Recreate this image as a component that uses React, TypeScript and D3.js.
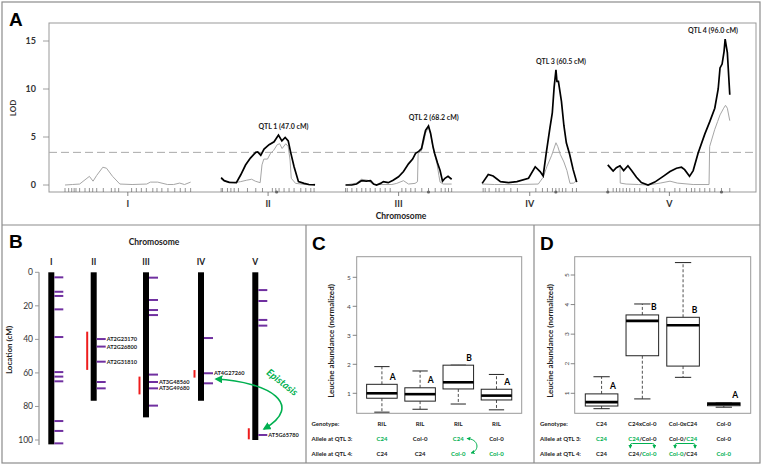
import React from "react";
import * as d3 from "d3";

// ---------- Panel A data ----------
const chromNames = ["I", "II", "III", "IV", "V"];
const chromLengthsA = [103, 77, 87, 78, 101];
const chromGapA = 25;
const lodTicks = [0, 5, 10, 15];
const lodThreshold = 3.4;

const lodGrayI = [[0,0],[6,0.05],[12,0.1],[18,0.7],[20,0.9],[23,0.4],[26,1.0],[31,1.85],[34,1.75],[39,0.9],[45,0.1],[55,0.05],[67,0.1],[70,0.3],[76,0.3],[84,0.05],[89,0.05],[94,0.2],[98,0.05],[103,0.3]];
const lodBlackII = [[0,0.76],[2.5,0.45],[6.6,0.28],[12.5,0.24],[16,1.04],[20,2.08],[24,2.8],[28.4,3.4],[30,3.45],[32.5,3.1],[35.2,3.75],[39.3,4.2],[43.4,4.5],[47,5.2],[49.8,4.6],[52.5,4.95],[55,4.6],[57,3.4],[59.8,1.9],[63.4,0.35],[68,0.17],[72,0.05],[77,0.02]];
const lodGrayII = [[0,0.6],[4,0.35],[11,0.25],[16,0.35],[21,0.5],[25,0.6],[28,0.4],[32,0.24],[33.5,2.1],[35,2.7],[38,2.7],[40.5,3.3],[43,3.6],[46,4.2],[48,4.3],[50,3.8],[53,4.3],[55,4.0],[56.5,2.6],[57.5,0.7],[61,0.17],[73,0],[77,0.1]];
const lodBlackIII = [[0,0],[5,0],[9,0.1],[13,0.45],[17,0.4],[20.5,0.45],[23,0.1],[25.4,0],[28.7,0.17],[31,0.35],[35,0.24],[39,0.5],[43.4,0.86],[47.5,1.4],[51.6,2.2],[55,2.7],[57.4,3.3],[60,3.5],[62.3,3.8],[64.3,5.0],[65.6,5.7],[68,6.15],[69.7,5.4],[71.7,4.0],[73,3.3],[75.4,2.3],[77.5,1.5],[79.5,0.4],[81.5,0.7],[84,0.9],[87,0.6]];
const lodGrayIII = [[0,0],[9,0.2],[13,0.6],[18,0.5],[23,0.05],[38,0.05],[42,0.17],[47.5,0.45],[51.6,0.1],[57,0.17],[59,0.35],[59.5,3.3],[62,3.5],[64.3,4.6],[65.6,5.4],[68,6.0],[69.7,5.3],[71.7,3.9],[73,3.2],[75,2.2],[76.5,1.0],[77.5,0.3],[80,0.1],[87,0.1]];
const lodBlackIV = [[0,0.17],[5,1.1],[9,0.94],[15,0.35],[21.6,0.24],[28.5,0.35],[38,0.7],[43.5,1.9],[47.5,1.4],[50,0.94],[52.5,3.3],[55.5,5.9],[57.5,7.5],[59,10.2],[60.5,12.0],[61.3,10.8],[62.5,10.8],[65,8.7],[67,6.2],[69,4.4],[71.7,3.2],[74.6,1.6],[77.5,0.3]];
const lodGrayIV = [[0,0.1],[10,0.05],[30,0.05],[46,0.1],[50,0.8],[53,1.9],[57,3.1],[60.5,4.4],[62,4.0],[64,3.2],[67,2.4],[69.5,1.5],[72,0.17],[75,0.2],[77.5,0.5]];
const lodBlackV = [[0,2.1],[4.4,1.45],[7,1.8],[10,2.0],[13,1.5],[16.5,2.0],[19.5,1.5],[23.5,0.8],[27.5,0.25],[33,0],[38.5,0.3],[45.4,0.9],[51,1.4],[56.3,1.75],[60.4,1.85],[63,1.6],[67,0.9],[70,1.5],[74,3.3],[79.5,5.3],[83.6,6.6],[87.7,8.0],[90.5,10.0],[92,12.2],[93.7,12.6],[95.3,13.9],[96.2,15.2],[98,13.8],[100,9.4]];
const lodGrayV = [[0,2.0],[4.4,1.4],[7,1.8],[10,2.0],[10.2,0.2],[15,0.1],[25,0.05],[33,0],[43,0.2],[51,0.4],[57,0.2],[70,0.05],[83,0.05],[83.5,4.0],[87.7,5.8],[90,6.6],[92,7.3],[95,8.0],[96.5,8.3],[98,8.0],[100,6.7]];

const lodBlack = [null, lodBlackII, lodBlackIII, lodBlackIV, lodBlackV];
const lodGray = [lodGrayI, lodGrayII, lodGrayIII, lodGrayIV, lodGrayV];

const markersA = [
  [0,3,5.5,7.5,9,12,16.4,20,22.7,26,31.4,38,41,44,54.6,58.5,62.6,66.7,72,75.4,79.4,84.4,90,94.5,98.6,103],
  [0,1.1,5.2,8,10.7,14.2,21.6,28.4,33.9,42,44.8,47.5,51.6,55.7,59.8,65.3,69.4,73.5,76.2],
  [0,1.4,5.2,9.2,13.3,16.6,20.2,24.3,28.4,32.5,36.6,46.2,49.4,53.5,57.1,62.5,68,73.5,78.4,81.7,84.4,87],
  [0.8,2.5,5.7,11.2,13.9,18,23.5,28.9,44,49.4,53.5,57.6,60.4,63.1,65.8,68.6,74,77.3],
  [0,4.4,7.1,9.8,12.5,15.3,18,22,26.2,31.7,37.1,42.6,46.7,55,59,64.5,68.6,71.3,75.4,79.5,83.6,87.7,93.2,100],
];
const dotChrom = [1, 2, 3, 4, 4];
const dotPos = [45.5, 68, 60.4, 0, 93.2];

const qtlNames = ["QTL 1 (47.0 cM)", "QTL 2 (68.2 cM)", "QTL 3 (60.5 cM)", "QTL 4 (96.0 cM)"];
const qtlChrom = [1, 2, 3, 4];
const qtlPos = [47.0, 68.2, 60.5, 96.0];

// ---------- Panel B data ----------
const chromLengthsB = [102.6, 76.6, 86.5, 76.6, 100];
const locTicks = [0, 20, 40, 60, 80, 100];
const markersB = [
  [3, 11.6, 14.1, 22.1, 38.6, 59.5, 62.2, 65, 88.7, 94.6, 102],
  [39.8, 44.3, 53.3, 65.4, 69.2],
  [3.2, 16.5, 22.5, 25.5, 61, 65.4, 69.2, 79.5],
  [39.2, 60.2, 66.2],
  [10.6, 17.1, 28.4, 31.8, 97],
];
const geneNames = ["AT2G23170", "AT2G26800", "AT2G31810", "AT3G48560", "AT3G49680", "AT4G27260", "AT5G65780"];
const geneChrom = [1, 1, 1, 2, 2, 3, 4];
const genePos = [39.8, 44.3, 53.3, 65.4, 69.2, 60.2, 97];
const qtlIntervalChrom = [1, 2, 3, 4];
const qtlIntervalFrom = [35.4, 62.2, 58.3, 93];
const qtlIntervalTo = [58.2, 72.8, 62.8, 99.6];

// ---------- Panel C / D data ----------
const abundanceTicks = [1, 2, 3, 4, 5];
// [whiskerLow, Q1, median, Q3, whiskerHigh]
const cBoxes = [
  [0.35, 0.83, 1.0, 1.31, 1.92],
  [0.45, 0.73, 0.97, 1.19, 1.77],
  [0.63, 1.15, 1.38, 1.97, 1.97],
  [0.43, 0.77, 0.92, 1.14, 1.65],
];
const cLetters = ["A", "A", "B", "A"];
const cGenotype = ["RIL", "RIL", "RIL", "RIL"];
const cQtl3 = [[["C24", "g"]], [["Col-0", "k"]], [["C24", "g"]], [["Col-0", "k"]]];
const cQtl4 = [[["C24", "k"]], [["C24", "k"]], [["Col-0", "g"]], [["Col-0", "g"]]];

const dBoxes = [
  [0.48, 0.57, 0.7, 0.98, 1.56],
  [0.81, 2.27, 3.45, 3.65, 4.02],
  [1.54, 1.92, 3.3, 3.57, 5.42],
  [0.53, 0.58, 0.64, 0.68, 0.68],
];
const dLetters = ["A", "B", "B", "A"];
const dGenotype = ["C24", "C24xCol-0", "Col-0xC24", "Col-0"];
const dQtl3 = [[["C24", "g"]], [["C24", "g"], ["/Col-0", "k"]], [["Col-0/", "k"], ["C24", "g"]], [["Col-0", "k"]]];
const dQtl4 = [[["C24", "k"]], [["C24/", "k"], ["Col-0", "g"]], [["Col-0", "g"], ["/C24", "k"]], [["Col-0", "g"]]];
const rowLabels = ["Genotype:", "Allele at QTL 3:", "Allele at QTL 4:"];

const FONT = "Lato, 'Open Sans', sans-serif";
const GREEN = "#00b050";
const PURPLE = "#7030a0";
const FRAME = "#8c8c8c";

function Boxplot({ boxes, letters, xs, ys, unit, rotateTicks, frame }) {
  const bw = unit * 0.8;
  return (
    <g>
      <rect x={frame[0]} y={frame[1]} width={frame[2] - frame[0]} height={frame[3] - frame[1]} fill="white" stroke="#999" strokeWidth={1} />
      {abundanceTicks.map((t) => (
        <g key={t}>
          <line x1={frame[0] - 4} x2={frame[0]} y1={ys(t)} y2={ys(t)} stroke="#666" strokeWidth={0.8} />
          {rotateTicks ? (
            <text transform={`translate(${frame[0] - 6},${ys(t)}) rotate(-90)`} textAnchor="middle" fontSize={6.5} fill="#444" fontFamily={FONT}>{t}</text>
          ) : (
            <text x={frame[0] - 6} y={ys(t)} dy="0.35em" textAnchor="end" fontSize={6.5} fill="#444" fontFamily={FONT}>{t}</text>
          )}
        </g>
      ))}
      {boxes.map((b, i) => {
        const cx = xs(i + 1);
        const [lo, q1, md, q3, hi] = b;
        return (
          <g key={i}>
            <line x1={cx} x2={cx} y1={ys(q3)} y2={ys(hi)} stroke="#222" strokeWidth={0.8} strokeDasharray="3,2" />
            <line x1={cx} x2={cx} y1={ys(q1)} y2={ys(lo)} stroke="#222" strokeWidth={0.8} strokeDasharray="3,2" />
            <line x1={cx - bw / 4} x2={cx + bw / 4} y1={ys(hi)} y2={ys(hi)} stroke="#222" strokeWidth={1} />
            <line x1={cx - bw / 4} x2={cx + bw / 4} y1={ys(lo)} y2={ys(lo)} stroke="#222" strokeWidth={1} />
            <rect x={cx - bw / 2} y={ys(q3)} width={bw} height={ys(q1) - ys(q3)} fill="white" stroke="#222" strokeWidth={1} />
            <line x1={cx - bw / 2} x2={cx + bw / 2} y1={ys(md)} y2={ys(md)} stroke="#000" strokeWidth={2.6} />
            <text x={cx + unit * 0.28} y={ys(q3) - 4.5} textAnchor="middle" fontSize={8.5} fontWeight="bold" fontFamily={FONT}>{letters[i]}</text>
          </g>
        );
      })}
    </g>
  );
}

function RichText({ x, y, parts }) {
  return (
    <text x={x} y={y} textAnchor="middle" fontSize={6} fontWeight="bold" fontFamily={FONT}>
      {parts.map((p, j) => (
        <tspan key={j} fill={p[1] === "g" ? GREEN : "#222"}>{p[0]}</tspan>
      ))}
    </text>
  );
}

export default function App() {
  // ---- Panel A scales
  const starts = [];
  let acc = 0;
  chromLengthsA.forEach((L) => { starts.push(acc); acc += L + chromGapA; });
  const totalA = acc - chromGapA;
  const xA = d3.scaleLinear().domain([0, totalA]).range([65, 731]);
  const yA = d3.scaleLinear().domain([0, 15]).range([185, 41]);
  const lineA = (ci) => d3.line().x((d) => xA(starts[ci] + d[0])).y((d) => yA(d[1]));

  // ---- Panel B scales
  const yB = d3.scaleLinear().domain([0, 100]).range([272.3, 440]);
  const barLeft = [48.3, 90.7, 143, 198, 252.3];
  const barW = 6;

  // ---- Panel C / D scales
  const frameC = [356.7, 256.7, 521.7, 413.3];
  const frameD = [574.7, 256.7, 750.7, 413.3];
  const xC = d3.scaleLinear().domain([0.34, 4.66]).range([frameC[0], frameC[2]]);
  const yC = d3.scaleLinear().domain([1, 5]).range([393.3, 277.3]);
  const xD = d3.scaleLinear().domain([0.34, 4.66]).range([frameD[0], frameD[2]]);
  const yD = d3.scaleLinear().domain([1, 5]).range([393.3, 275]);
  const unitC = xC(2) - xC(1);
  const unitD = xD(2) - xD(1);
  const rowY = [426, 440.5, 456];

  return (
    <svg width={763} height={465} style={{ position: "absolute", left: 0, top: 0, background: "white" }} fontFamily={FONT}>
      <defs>
        <marker id="ah" viewBox="0 0 10 10" refX="8" refY="5" markerWidth="5" markerHeight="5" orient="auto-start-reverse">
          <path d="M0,0 L10,5 L0,10 z" fill={GREEN} />
        </marker>
        <marker id="ahs" viewBox="0 0 10 10" refX="8" refY="5" markerWidth="4" markerHeight="4" orient="auto-start-reverse">
          <path d="M0,0 L10,5 L0,10 z" fill={GREEN} />
        </marker>
      </defs>
      <rect x={0} y={0} width={763} height={465} fill="white" />
      {/* panel borders */}
      <rect x={2} y={2} width={758} height={461} fill="none" stroke={FRAME} strokeWidth={1.2} />
      <line x1={2} x2={760} y1={225} y2={225} stroke={FRAME} strokeWidth={1.2} />
      <line x1={306} x2={306} y1={225} y2={463} stroke={FRAME} strokeWidth={1.2} />
      <line x1={534} x2={534} y1={225} y2={463} stroke={FRAME} strokeWidth={1.2} />

      {/* ================= Panel A ================= */}
      <text x={9} y={26} fontSize={19} fontWeight="bold" fontFamily="'Liberation Sans', Arial, sans-serif">A</text>
      <rect x={49} y={23} width={707} height={169} fill="none" stroke="#999" strokeWidth={1} />
      {lodTicks.map((t) => (
        <g key={t}>
          <line x1={43} x2={49} y1={yA(t)} y2={yA(t)} stroke="#888" strokeWidth={0.8} />
          <text x={36} y={yA(t)} dy="0.35em" textAnchor="end" fontSize={9} fontWeight="bold" fill="#333">{t}</text>
        </g>
      ))}
      <text transform={`translate(16,108) rotate(-90)`} textAnchor="middle" fontSize={8} fontWeight="bold" fill="#333">LOD</text>
      <line x1={49} x2={756} y1={yA(lodThreshold)} y2={yA(lodThreshold)} stroke="#aaa" strokeWidth={1} strokeDasharray="8,4" />
      {chromNames.map((c, ci) => (
        <g key={c}>
          {markersA[ci].map((m, k) => (
            <line key={k} x1={xA(starts[ci] + m)} x2={xA(starts[ci] + m)} y1={188} y2={192} stroke="#666" strokeWidth={0.7} />
          ))}
          <line x1={xA(starts[ci] + chromLengthsA[ci] / 2)} x2={xA(starts[ci] + chromLengthsA[ci] / 2)} y1={192} y2={196} stroke="#666" strokeWidth={0.8} />
          <text x={xA(starts[ci] + chromLengthsA[ci] / 2)} y={207} textAnchor="middle" fontSize={9} fontWeight="bold" fill="#333">{c}</text>
          <path d={lineA(ci)(lodGray[ci])} fill="none" stroke="#a6a6a6" strokeWidth={1} />
          {lodBlack[ci] && <path d={lineA(ci)(lodBlack[ci])} fill="none" stroke="#000" strokeWidth={1.7} />}
        </g>
      ))}
      {dotPos.map((p, k) => (
        <circle key={k} cx={xA(starts[dotChrom[k]] + p)} cy={192} r={1.6} fill="#666" />
      ))}
      {qtlNames.map((q, k) => {
        const ci = qtlChrom[k];
        const peak = d3.max(lodBlack[ci], (d) => d[1]);
        const cx = Math.min(xA(starts[ci] + qtlPos[k]) + 5, 713);
        return (
          <text key={q} x={cx} y={yA(peak) - 6} textAnchor="middle" fontSize={7} fontWeight="bold" fill="#222">{q}</text>
        );
      })}
      <text x={401} y={219} textAnchor="middle" fontSize={8.5} fontWeight="bold" fill="#222">Chromosome</text>

      {/* ================= Panel B ================= */}
      <text x={9} y={248} fontSize={19} fontWeight="bold" fontFamily="'Liberation Sans', Arial, sans-serif">B</text>
      <text x={154} y={245} textAnchor="middle" fontSize={8.5} fontWeight="bold" fill="#222">Chromosome</text>
      <line x1={39} x2={39} y1={yB(0)} y2={yB(103)} stroke="#aaa" strokeWidth={1.5} />
      {locTicks.map((t) => (
        <g key={t}>
          <line x1={35} x2={39} y1={yB(t)} y2={yB(t)} stroke="#999" strokeWidth={1} />
          <text x={33} y={yB(t)} dy="0.35em" textAnchor="end" fontSize={8.5} fill="#333">{t}</text>
        </g>
      ))}
      <text transform={`translate(12,350) rotate(-90)`} textAnchor="middle" fontSize={8} fontWeight="bold" fill="#222">Location (cM)</text>
      {chromNames.map((c, ci) => (
        <g key={c}>
          <text x={barLeft[ci] + barW / 2} y={265} textAnchor="middle" fontSize={8.5} fontWeight="bold" fill="#222">{c}</text>
          <rect x={barLeft[ci]} y={yB(0)} width={barW} height={yB(chromLengthsB[ci]) - yB(0)} fill="#000" />
          {markersB[ci].map((m, k) => (
            <line key={k} x1={barLeft[ci] + barW} x2={barLeft[ci] + barW + 9} y1={yB(m)} y2={yB(m)} stroke={PURPLE} strokeWidth={2} />
          ))}
        </g>
      ))}
      {qtlIntervalChrom.map((ci, k) => (
        <line key={k} x1={barLeft[ci] - 3.5} x2={barLeft[ci] - 3.5} y1={yB(qtlIntervalFrom[k])} y2={yB(qtlIntervalTo[k])} stroke="#ee1c1c" strokeWidth={2} />
      ))}
      {geneNames.map((g, k) => (
        <text key={g} x={barLeft[geneChrom[k]] + barW + 10} y={yB(genePos[k])} dy="0.35em" fontSize={5.6} fontWeight="bold" fill="#222">{g}</text>
      ))}
      <path d="M216,379 C270,382 305,405 264,429" fill="none" stroke={GREEN} strokeWidth={1.6} markerStart="url(#ah)" markerEnd="url(#ah)" />
      <text transform="translate(280,385) rotate(38)" textAnchor="middle" fontSize={10} fontWeight="bold" fontStyle="italic" fill={GREEN}>Epistasis</text>

      {/* ================= Panel C ================= */}
      <text x={312} y={250} fontSize={19} fontWeight="bold" fontFamily="'Liberation Sans', Arial, sans-serif">C</text>
      <text transform={`translate(334,341) rotate(-90)`} textAnchor="middle" fontSize={8} fontWeight="bold" fill="#222">Leucine abundance (normalized)</text>
      <Boxplot boxes={cBoxes} letters={cLetters} xs={xC} ys={yC} unit={unitC} rotateTicks={false} frame={frameC} />
      {rowLabels.map((r, k) => (
        <text key={r} x={311.5} y={rowY[k]} fontSize={6} fontWeight="bold" fill="#222">{r}</text>
      ))}
      {cGenotype.map((g, i) => (
        <RichText key={"cg" + i} x={xC(i + 1)} y={rowY[0]} parts={[[g, "k"]]} />
      ))}
      {cQtl3.map((p, i) => <RichText key={"c3" + i} x={xC(i + 1)} y={rowY[1]} parts={p} />)}
      {cQtl4.map((p, i) => <RichText key={"c4" + i} x={xC(i + 1)} y={rowY[2]} parts={p} />)}
      <path d={`M${xC(3) + 9},438.5 C${xC(3) + 20},439 ${xC(3) + 22},450 ${xC(3) + 13},453`} fill="none" stroke={GREEN} strokeWidth={1} markerStart="url(#ahs)" markerEnd="url(#ahs)" />

      {/* ================= Panel D ================= */}
      <text x={540} y={250} fontSize={19} fontWeight="bold" fontFamily="'Liberation Sans', Arial, sans-serif">D</text>
      <text transform={`translate(553,341) rotate(-90)`} textAnchor="middle" fontSize={8} fontWeight="bold" fill="#222">Leucine abundance (normalized)</text>
      <Boxplot boxes={dBoxes} letters={dLetters} xs={xD} ys={yD} unit={unitD} rotateTicks={true} frame={frameD} />
      {rowLabels.map((r, k) => (
        <text key={"d" + r} x={540} y={rowY[k]} fontSize={6} fontWeight="bold" fill="#222">{r}</text>
      ))}
      {dGenotype.map((g, i) => (
        <RichText key={"dg" + i} x={xD(i + 1)} y={rowY[0]} parts={[[g, "k"]]} />
      ))}
      {dQtl3.map((p, i) => <RichText key={"d3" + i} x={xD(i + 1)} y={rowY[1]} parts={p} />)}
      {dQtl4.map((p, i) => <RichText key={"d4" + i} x={xD(i + 1)} y={rowY[2]} parts={p} />)}
      {[2, 3].map((i) => {
        const cx = xD(i);
        const x1 = i === 2 ? cx - 12 : cx - 8;
        const x2 = i === 2 ? cx + 12 : cx + 12;
        return (
          <path key={"br" + i} d={`M${x1},448 L${x1},445 Q${x1},443.5 ${x1 + 2},443.5 L${x2 - 2},443.5 Q${x2},443.5 ${x2},445 L${x2},448`} fill="none" stroke={GREEN} strokeWidth={1} markerStart="url(#ahs)" markerEnd="url(#ahs)" />
        );
      })}
    </svg>
  );
}
